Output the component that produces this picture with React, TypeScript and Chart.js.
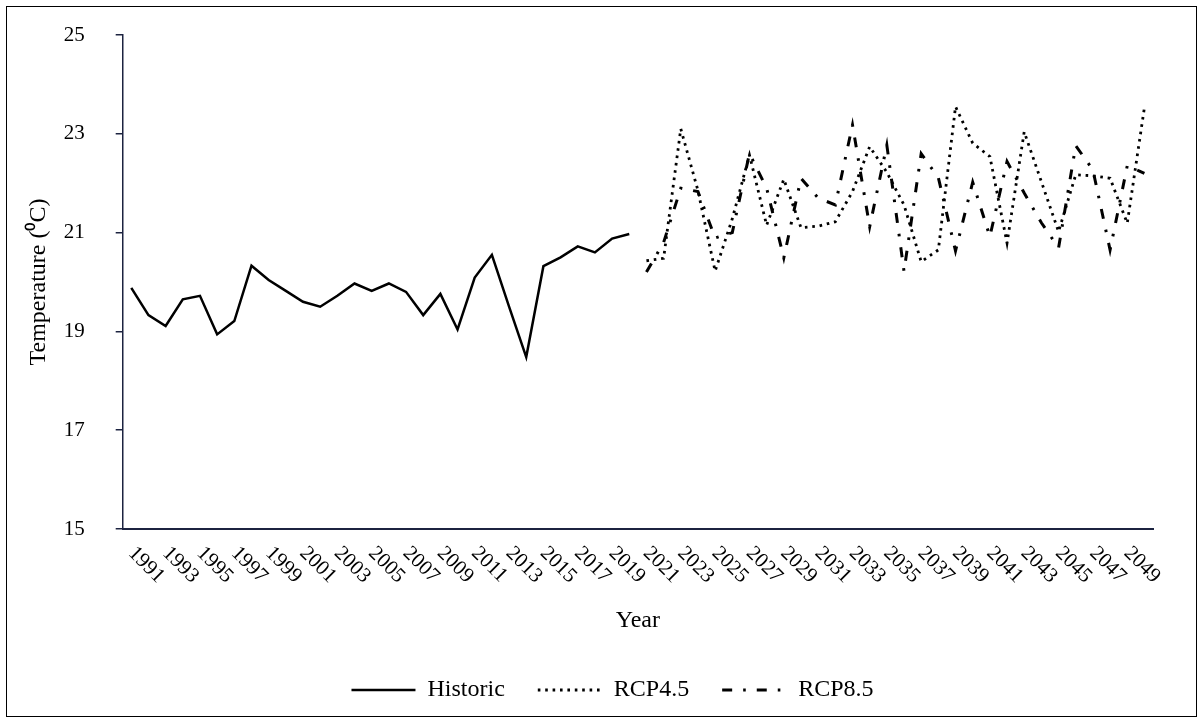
import { useEffect, useRef } from "react";
import { Chart, registerables } from "chart.js";

Chart.register(...registerables);

// Category axis: one slot per year, 1991–2050 (odd years are labelled)
const years: string[] = [
  "1991", "1992", "1993", "1994", "1995", "1996", "1997", "1998", "1999", "2000",
  "2001", "2002", "2003", "2004", "2005", "2006", "2007", "2008", "2009", "2010",
  "2011", "2012", "2013", "2014", "2015", "2016", "2017", "2018", "2019", "2020",
  "2021", "2022", "2023", "2024", "2025", "2026", "2027", "2028", "2029", "2030",
  "2031", "2032", "2033", "2034", "2035", "2036", "2037", "2038", "2039", "2040",
  "2041", "2042", "2043", "2044", "2045", "2046", "2047", "2048", "2049", "2050",
];

// Observed mean temperature, 1991–2020 (°C)
const historic: number[] = [
  19.88, 19.33, 19.11, 19.65, 19.72, 18.94, 19.21, 20.33, 20.04, 19.82,
  19.6, 19.5, 19.72, 19.97, 19.82, 19.97, 19.8, 19.33, 19.76, 19.04,
  20.09, 20.55, 19.5, 18.48, 20.32, 20.5, 20.72, 20.6, 20.88, 20.97,
];

// Projected temperature under RCP4.5, 2021–2050 (°C)
const rcp45: number[] = [
  20.43, 20.48, 23.1, 21.85, 20.22, 21.28, 22.57, 21.15, 22.08, 21.1,
  21.13, 21.22, 21.83, 22.74, 22.22, 21.56, 20.41, 20.65, 23.55, 22.81,
  22.54, 20.79, 23.04, 22.03, 21.02, 22.17, 22.15, 22.1, 21.19, 23.53,
];

// Projected temperature under RCP8.5, 2021–2050 (°C)
const rcp85: number[] = [
  20.2, 20.8, 21.9, 21.83, 20.89, 21.0, 22.6, 21.9, 20.49, 22.1,
  21.7, 21.56, 23.18, 21.12, 22.77, 20.22, 22.6, 22.11, 20.63, 22.02,
  20.92, 22.44, 21.8, 21.2, 20.69, 22.76, 22.27, 20.65, 22.35, 22.2,
];

const yMin = 15;
const yMax = 25;
const yStep = 2;

const FONT = '"Times New Roman", "Liberation Serif", serif';
const AXIS_COLOR = "#1c2340";

// Blank slots so each series sits in its own span of years
const historicSeries = [...historic, ...rcp45.map(() => null)];
const rcp45Series = [...historic.map(() => null), ...rcp45];
const rcp85Series = [...historic.map(() => null), ...rcp85];

// White page, thin frame around the whole figure
const framePlugin = {
  id: "frame",
  beforeDraw(chart: any) {
    const { ctx, width, height } = chart;
    ctx.save();
    ctx.fillStyle = "#ffffff";
    ctx.fillRect(0, 0, width, height);
    ctx.restore();
  },
  afterDraw(chart: any) {
    const { ctx, width, height } = chart;
    ctx.save();
    ctx.strokeStyle = "#000000";
    ctx.lineWidth = 1;
    ctx.strokeRect(6.5, 6.5, width - 13, height - 13);
    ctx.restore();
  },
};

// Year labels slanted downward to the right, one every second year
const slantedYearsPlugin = {
  id: "slantedYears",
  afterDraw(chart: any) {
    const scale = chart.scales.x;
    const { ctx } = chart;
    ctx.save();
    ctx.font = `21px ${FONT}`;
    ctx.fillStyle = "#000000";
    ctx.textAlign = "left";
    ctx.textBaseline = "middle";
    years.forEach((yr, i) => {
      if (i % 2 !== 0) return;
      const px = scale.getPixelForValue(i);
      ctx.save();
      ctx.translate(px, scale.top + 21);
      ctx.rotate(Math.PI / 4);
      ctx.fillText(yr, 0, 0);
      ctx.restore();
    });
    ctx.restore();
  },
};

// Nudge the legend row to the right
const legendShiftPlugin = {
  id: "legendShift",
  afterLayout(chart: any) {
    const lg = chart.legend;
    if (lg) {
      lg.left += 31;
      lg.right += 31;
    }
  },
};

export default function App() {
  const ref = useRef<HTMLCanvasElement>(null);

  useEffect(() => {
    if (!ref.current) return;
    const chart = new Chart(ref.current, {
      type: "line",
      data: {
        labels: years,
        datasets: [
          {
            label: "Historic",
            data: historicSeries,
            borderColor: "#000000",
            backgroundColor: "#000000",
            borderWidth: 2.5,
            pointRadius: 0,
            tension: 0,
            borderJoinStyle: "miter",
          },
          {
            label: "RCP4.5",
            data: rcp45Series,
            borderColor: "#000000",
            backgroundColor: "#000000",
            borderWidth: 2.8,
            borderDash: [2.6, 4.8],
            pointRadius: 0,
            tension: 0,
          },
          {
            label: "RCP8.5",
            data: rcp85Series,
            borderColor: "#000000",
            backgroundColor: "#000000",
            borderWidth: 3,
            borderDash: [10, 11, 2.6, 11],
            pointRadius: 0,
            tension: 0,
          },
        ],
      },
      options: {
        responsive: false,
        animation: false,
        events: [],
        layout: { padding: { left: 10, right: 50, top: 35, bottom: 11 } },
        plugins: {
          tooltip: { enabled: false },
          legend: {
            position: "bottom",
            labels: {
              usePointStyle: true,
              pointStyle: "line",
              pointStyleWidth: 64,
              padding: 33,
              color: "#000000",
              font: { family: FONT, size: 24 },
              generateLabels(chart: any) {
                const items = Chart.defaults.plugins.legend.labels.generateLabels(chart);
                return items.map((item: any) => {
                  const ds: any = chart.data.datasets[item.datasetIndex];
                  return {
                    ...item,
                    pointStyle: "line",
                    lineWidth: ds.borderWidth,
                    lineDash: ds.borderDash || [],
                    strokeStyle: ds.borderColor,
                    fillStyle: ds.borderColor,
                  };
                });
              },
            },
          },
        },
        scales: {
          x: {
            type: "category",
            offset: true,
            grid: { display: false },
            border: { display: true, color: AXIS_COLOR, width: 2 },
            ticks: { display: false },
            title: {
              display: true,
              text: "Year",
              color: "#000000",
              font: { family: FONT, size: 24 },
              padding: { top: 0, bottom: 10 },
            },
            afterFit(scale: any) {
              scale.height = 116;
            },
          },
          y: {
            min: yMin,
            max: yMax,
            grid: {
              drawOnChartArea: false,
              drawTicks: true,
              tickLength: 7,
              color: AXIS_COLOR,
              lineWidth: 1.5,
            },
            border: { display: true, color: AXIS_COLOR, width: 1.5 },
            ticks: {
              stepSize: yStep,
              padding: 31,
              color: "#000000",
              font: { family: FONT, size: 21 },
            },
            title: {
              display: true,
              text: "Temperature (\u2070C)",
              color: "#000000",
              font: { family: FONT, size: 24 },
              padding: { top: 14, bottom: 0 },
            },
            afterFit(scale: any) {
              scale.width = 112.7;
              scale.paddingTop = 0;
              scale.paddingBottom = 0;
            },
          },
        },
      },
      plugins: [framePlugin, slantedYearsPlugin, legendShiftPlugin],
    });
    return () => chart.destroy();
  }, []);

  return (
    <div style={{ position: "absolute", left: 0, top: 0, width: 1203, height: 723 }}>
      <canvas ref={ref} width={1203} height={723} style={{ display: "block" }} />
    </div>
  );
}
